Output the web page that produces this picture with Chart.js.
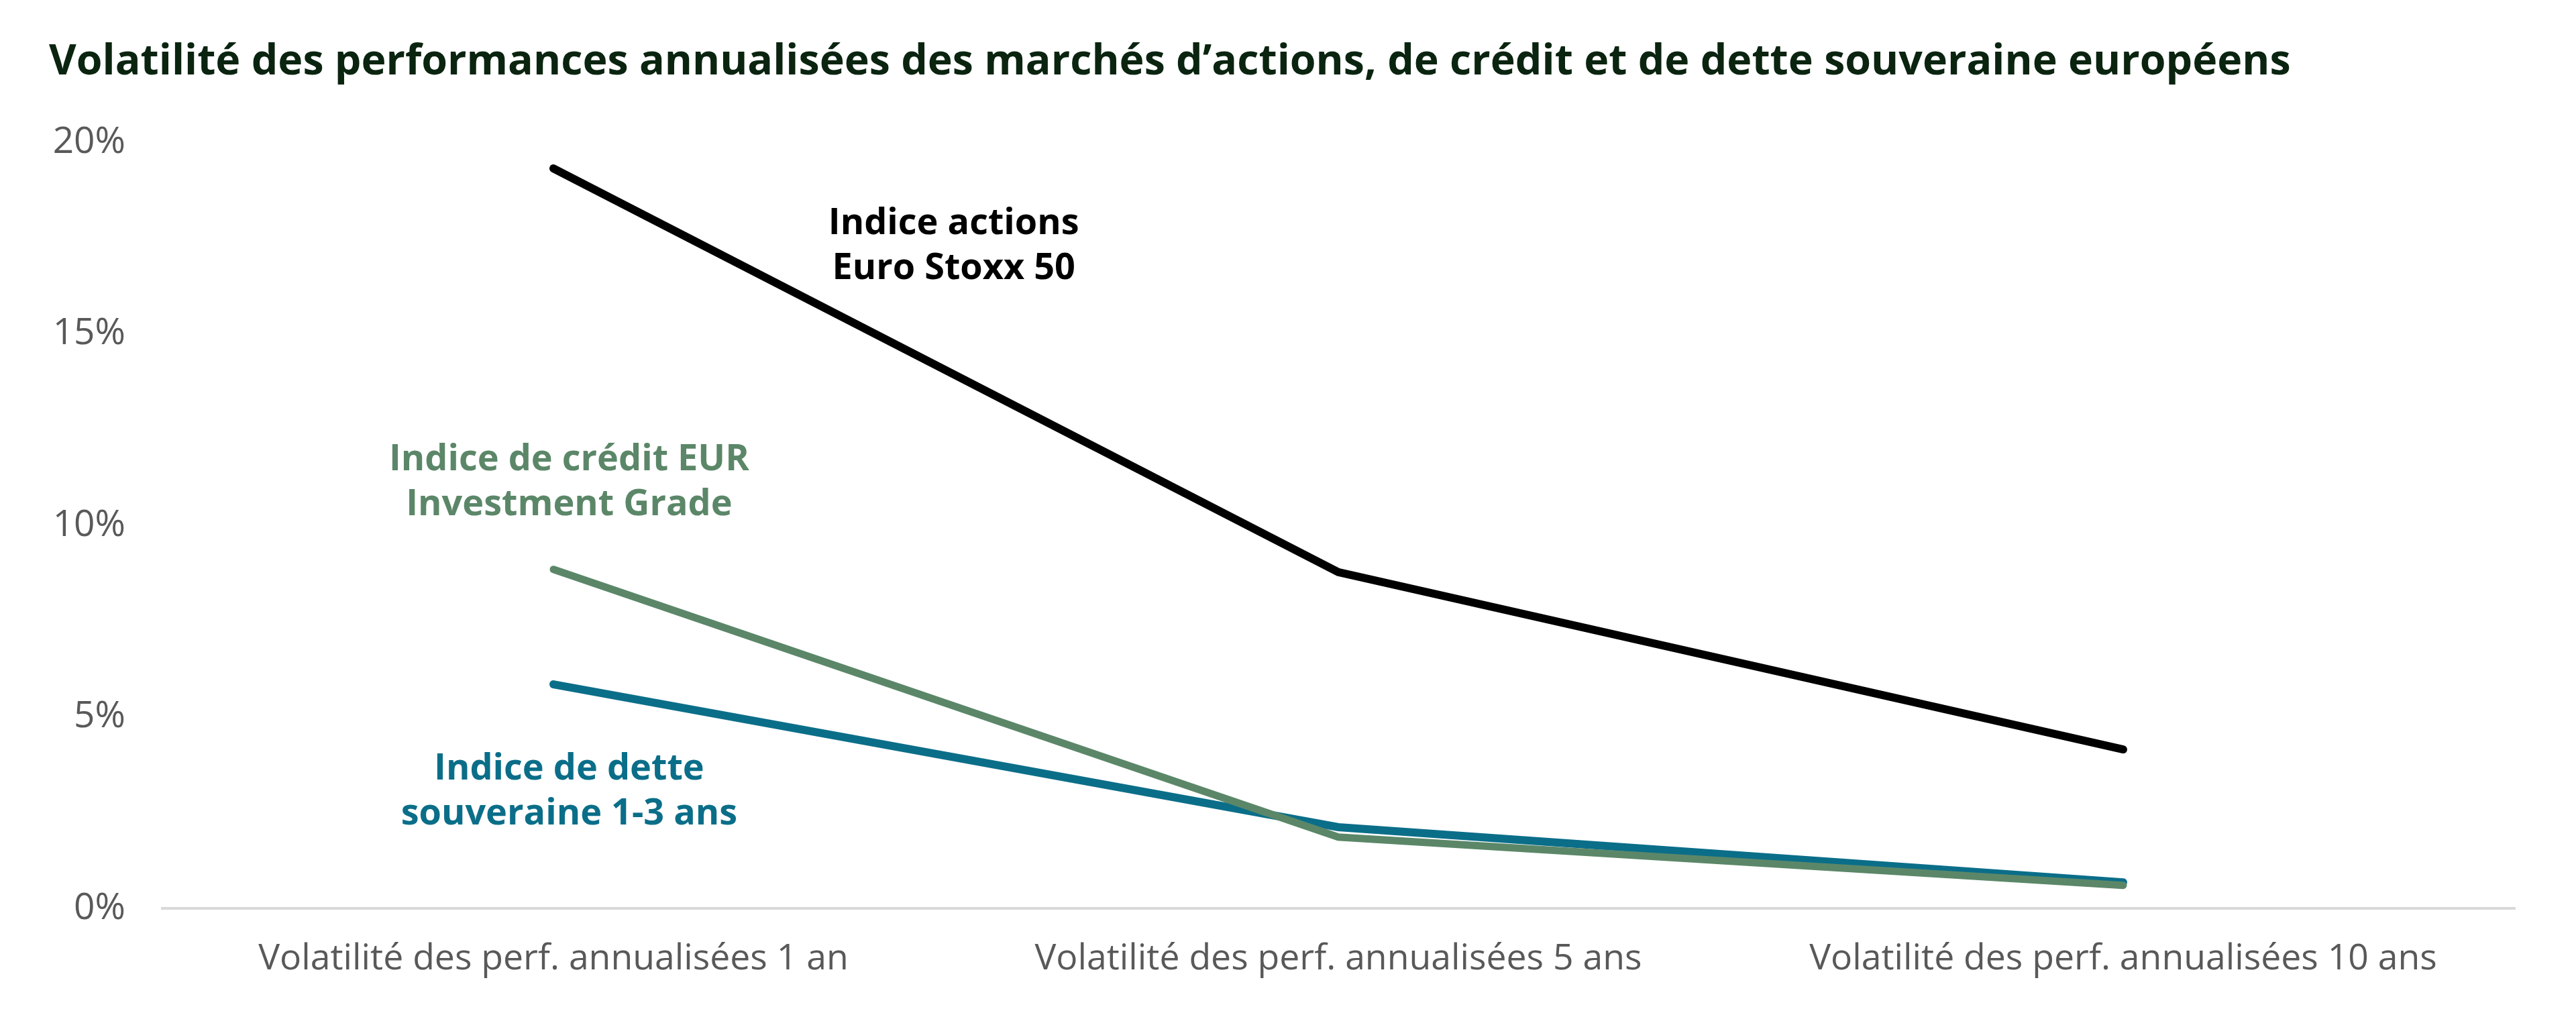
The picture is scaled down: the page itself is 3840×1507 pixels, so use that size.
<!DOCTYPE html>
<html>
<head>
<meta charset="utf-8">
<script src="https://cdn.jsdelivr.net/npm/chart.js@4.4.1/dist/chart.umd.min.js"></script>
<style>
  html, body { margin: 0; padding: 0; background: #fff; }
  #wrap { width: 3840px; height: 1507px; }
</style>
</head>
<body>
<div id="wrap"><canvas id="myChart" width="3840" height="1507"></canvas></div>
<script>
const titleText = 'Volatilité des performances annualisées des marchés d’actions, de crédit et de dette souveraine européens';
const categories = [
    'Volatilité des perf. annualisées 1 an',
    'Volatilité des perf. annualisées 5 ans',
    'Volatilité des perf. annualisées 10 ans'
];
const yTicks = [0, 5, 10, 15, 20];

const seriesNames = [
    ['Indice actions', 'Euro Stoxx 50'],
    ['Indice de crédit EUR', 'Investment Grade'],
    ['Indice de dette', 'souveraine 1-3 ans']
];
const equityValues = [19.32, 8.78, 4.15];
const creditValues = [8.85, 1.86, 0.6];
const sovereignValues = [5.85, 2.12, 0.68];

const colors = ['#000000', '#5b8768', '#0b6e89'];

// where each series name sits, in axis units (category index, value)
const nameAnchors = [
    { x: 0.51, y: 17.28 },
    { x: 0.02, y: 11.13 },
    { x: 0.02, y: 3.05 }
];

const seriesLabels = {
    id: 'seriesLabels',
    afterDatasetsDraw(chart) {
        const ctx = chart.ctx;
        const xs = chart.scales.x, ys = chart.scales.y;
        ctx.save();
        ctx.font = 'bold 54px "Open Sans"';
        ctx.textAlign = 'center';
        ctx.textBaseline = 'middle';
        seriesNames.forEach((lines, i) => {
            const cx = xs.getPixelForValue(nameAnchors[i].x);
            const cy = ys.getPixelForValue(nameAnchors[i].y);
            ctx.fillStyle = colors[i];
            const lh = 67;
            lines.forEach((t, j) => {
                ctx.fillText(t, cx, cy + (j - (lines.length - 1) / 2) * lh);
            });
        });
        ctx.restore();
    }
};

const data = {
    labels: categories,
    datasets: [
        { label: seriesNames[0].join(' '), data: equityValues, borderColor: colors[0], borderWidth: 12 },
        { label: seriesNames[1].join(' '), data: creditValues, borderColor: colors[1], borderWidth: 11 },
        { label: seriesNames[2].join(' '), data: sovereignValues, borderColor: colors[2], borderWidth: 12 }
    ]
};

const config = {
    type: 'line',
    data,
    options: {
        responsive: false,
        animation: false,
        layout: { padding: { top: 56, left: 73, right: 90, bottom: 0 } },
        elements: {
            point: { radius: 0 },
            line: { tension: 0, borderCapStyle: 'round', borderJoinStyle: 'miter' }
        },
        plugins: {
            legend: { display: false },
            tooltip: { enabled: false },
            title: {
                display: true,
                text: titleText,
                align: 'start',
                color: '#0a2410',
                font: { family: 'Open Sans', size: 62.7, weight: 'bold', lineHeight: 1.2 },
                padding: { top: 0, bottom: 81 }
            }
        },
        scales: {
            x: {
                offset: true,
                grid: { display: false },
                border: { display: false },
                ticks: {
                    color: '#595959',
                    font: { family: 'Open Sans', size: 53.5 },
                    padding: 36,
                    maxRotation: 0
                },
                afterFit(scale) { scale.height = 153; }
            },
            y: {
                min: 0,
                max: 20,
                afterBuildTicks(scale) { scale.ticks = yTicks.map(v => ({ value: v })); },
                grid: {
                    drawTicks: false,
                    color: ctx => ctx.tick && ctx.tick.value === 0 ? '#d9d9d9' : 'rgba(0,0,0,0)',
                    lineWidth: 4
                },
                border: { display: false },
                ticks: {
                    color: '#595959',
                    font: { family: 'Open Sans', size: 55 },
                    padding: 53,
                    callback: v => v + '%'
                },
                afterFit(scale) { scale.width = 167; }
            }
        }
    },
    plugins: [seriesLabels]
};

const myChart = new Chart(document.getElementById('myChart'), config);
</script>
</body>
</html>
